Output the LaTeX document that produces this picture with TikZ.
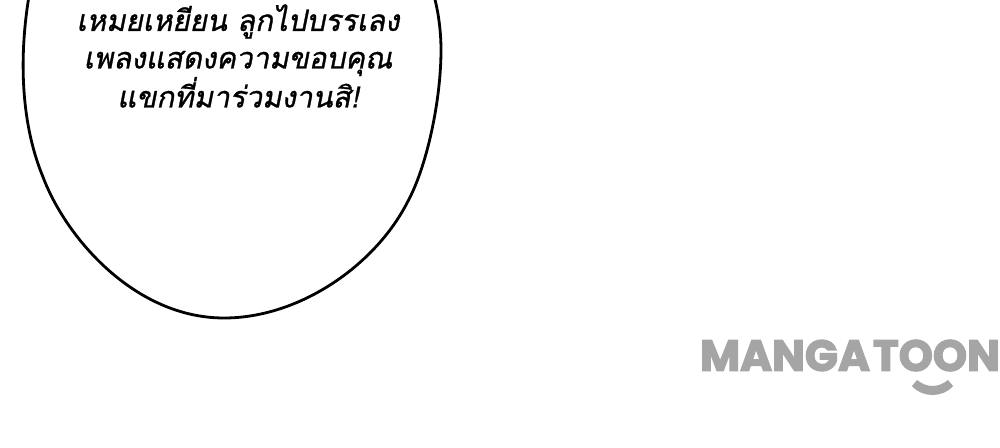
\documentclass[tikz,border=0pt]{standalone}
\usepackage{fontspec}
\newfontfamily\thaifont[Script=Thai,FakeSlant=0.2,FakeBold=1.0]{Loma}
\newfontfamily\logofont[FakeBold=3]{Poppins}
\definecolor{logogray}{RGB}{165,165,165}
\tikzset{
  speech/.style={font=\thaifont\fontsize{29.5}{37.5}\selectfont,align=center,text=black,inner sep=0pt},
  logotext/.style={font=\logofont\bfseries\fontsize{43.5}{43.5}\selectfont,text=logogray,inner sep=0pt,anchor=center},
  bubble/.style={draw=black,line width=2.8pt,line cap=round,line join=round}
}
\begin{document}
\begin{tikzpicture}[x=1pt,y=-1pt]
\useasboundingbox (0,0) rectangle (1000,447);
\fill[white] (0,0) rectangle (1000,447);
\draw[bubble] (29,-4) .. controls (20,50) and (19,119) .. (43,177)
  .. controls (66,238) and (135,318) .. (224,318)
  .. controls (300,318) and (375,265) .. (407,203)
  .. controls (427,167) and (441,100) .. (441,50)
  .. controls (441,30) and (438,10) .. (434,-4);
\node[speech] (txt) at (238,56) {เหมยเหยียน ลูกไปบรรเลง\\เพลงแสดงความขอบคุณ\\แขกที่มาร่วมงานสิ!};
\node[logotext] (logo) at (850,355.5) {MANGA\kern3pt TOON};
\fill[logogray] (912,386) -- (917,380) .. controls (927,388) and (938,388) .. (948,380) -- (953,386) .. controls (943,398) and (922,398) .. (912,386) -- cycle;
\end{tikzpicture}
\end{document}
